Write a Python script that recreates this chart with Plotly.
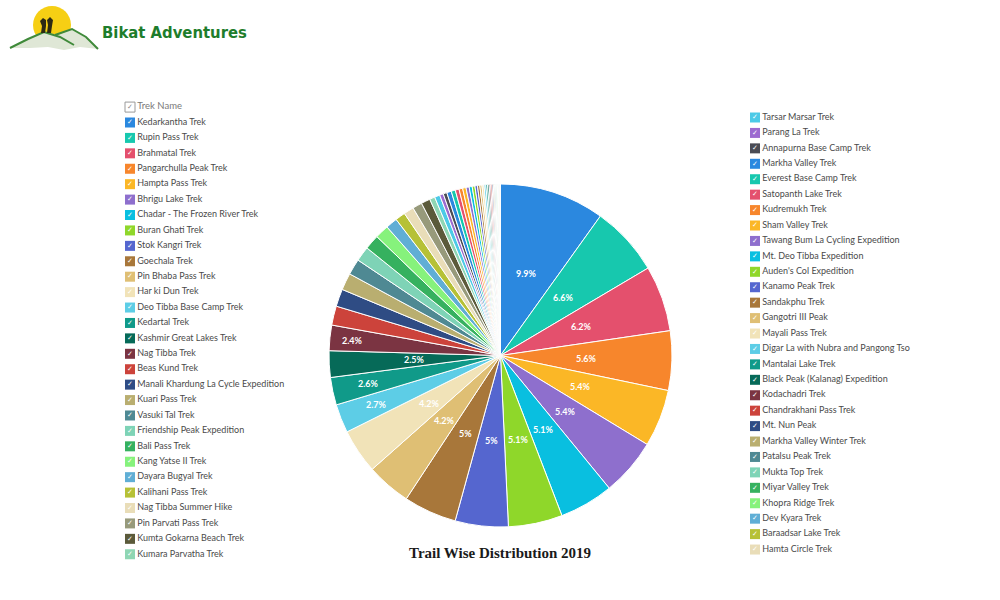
import math
import plotly.graph_objects as go

W, H = 1000, 600

def px(x):
    return x / W

def py(y):
    return 1 - y / H

# ---------------- data ----------------
left_names = [
    "Kedarkantha Trek", "Rupin Pass Trek", "Brahmatal Trek", "Pangarchulla Peak Trek",
    "Hampta Pass Trek", "Bhrigu Lake Trek", "Chadar - The Frozen River Trek", "Buran Ghati Trek",
    "Stok Kangri Trek", "Goechala Trek", "Pin Bhaba Pass Trek", "Har ki Dun Trek",
    "Deo Tibba Base Camp Trek", "Kedartal Trek", "Kashmir Great Lakes Trek", "Nag Tibba Trek",
    "Beas Kund Trek", "Manali Khardung La Cycle Expedition", "Kuari Pass Trek", "Vasuki Tal Trek",
    "Friendship Peak Expedition", "Bali Pass Trek", "Kang Yatse II Trek", "Dayara Bugyal Trek",
    "Kalihani Pass Trek", "Nag Tibba Summer Hike", "Pin Parvati Pass Trek", "Kumta Gokarna Beach Trek",
    "Kumara Parvatha Trek",
]
right_names = [
    "Tarsar Marsar Trek", "Parang La Trek", "Annapurna Base Camp Trek", "Markha Valley Trek",
    "Everest Base Camp Trek", "Satopanth Lake Trek", "Kudremukh Trek", "Sham Valley Trek",
    "Tawang Bum La Cycling Expedition", "Mt. Deo Tibba Expedition", "Auden's Col Expedition",
    "Kanamo Peak Trek", "Sandakphu Trek", "Gangotri III Peak", "Mayali Pass Trek",
    "Digar La with Nubra and Pangong Tso", "Mantalai Lake Trek", "Black Peak (Kalanag) Expedition",
    "Kodachadri Trek", "Chandrakhani Pass Trek", "Mt. Nun Peak", "Markha Valley Winter Trek",
    "Patalsu Peak Trek", "Mukta Top Trek", "Miyar Valley Trek", "Khopra Ridge Trek",
    "Dev Kyara Trek", "Baraadsar Lake Trek", "Hamta Circle Trek",
]
left_values = [
    9.9, 6.6, 6.2, 5.6, 5.4, 5.4, 5.1, 5.1, 5, 5, 4.2, 4.2, 2.7, 2.6, 2.5, 2.4,
    1.8, 1.65, 1.6, 1.5, 1.4, 1.4, 1.3, 1.1, 0.95, 0.95, 0.9, 0.85, 0.5,
]
right_values = [
    0.5, 0.35, 0.35, 0.43, 0.39, 0.36, 0.34, 0.32, 0.3, 0.28, 0.26, 0.24, 0.22,
    0.2, 0.19, 0.17, 0.16, 0.15, 0.14, 0.13, 0.12, 0.11, 0.1, 0.09, 0.08, 0.08,
    0.07, 0.07, 0.07,
]
palette = [
    "#2b88df", "#17c8ae", "#e4506d", "#f7862c", "#fbb726", "#8e6fcd", "#09bfe0", "#8fd72a",
    "#5566cf", "#a8773a", "#dfbf74", "#f1e3b8", "#5dcde6", "#109a89", "#066a58", "#7b3442",
    "#cc433b", "#2f4c84", "#b9ae70", "#4f8993", "#7ed3b6", "#36b15f", "#86f27c", "#60aed5",
    "#b6c136", "#e9ddb8", "#979a7b", "#5b5a3a", "#8fd6b3", "#4ccae7", "#9c6bd0", "#4b4c55",
]
label_min = 2.4  # slices that carry a percentage label

# label placement (style): fraction of radius, with a few pushed outward
label_r_default = 0.5
label_r_override = {12: 0.78, 13: 0.79, 15: 0.87}

names = left_names + right_names
values = left_values + right_values
colors = [palette[i % len(palette)] for i in range(len(names))]
left_colors = colors[:len(left_names)]
right_colors = colors[len(left_names):]

PIE_X = [px(329), px(672)]
PIE_Y = [py(527), py(184)]

fig = go.Figure()

# ---------------- pie ----------------
fig.add_trace(go.Pie(
    labels=names,
    values=values,
    sort=False,
    direction="clockwise",
    rotation=0,
    marker=dict(colors=colors, line=dict(color="white", width=1)),
    textinfo="none",
    domain=dict(x=PIE_X, y=PIE_Y),
    showlegend=False,
    hoverinfo="label+percent",
))

# ---------------- custom two-column legend ----------------
legend_font = dict(family="Lato, Open Sans, sans-serif", size=9, color="#4a4a4a")

def legend_column(nm, cols, xa, ya):
    idx = list(range(len(nm)))
    fig.add_trace(go.Scatter(
        x=[0] * len(nm), y=idx, mode="markers+text",
        marker=dict(symbol="square", size=10, color=cols, line=dict(width=0)),
        text=nm, textposition="middle right", textfont=legend_font,
        xaxis=xa, yaxis=ya, showlegend=False, hoverinfo="text",
        cliponaxis=False,
    ))
    fig.add_trace(go.Scatter(
        x=[0] * len(nm), y=idx, mode="text", text=["✓"] * len(nm),
        textposition="middle center",
        textfont=dict(family="DejaVu Sans", size=7, color="white"),
        xaxis=xa, yaxis=ya, showlegend=False, hoverinfo="skip", cliponaxis=False,
    ))

legend_column(left_names, left_colors, "x", "y")
legend_column(right_names, right_colors, "x2", "y2")

# header "Trek Name"
fig.add_trace(go.Scatter(
    x=[0], y=[-1], mode="markers+text",
    marker=dict(symbol="square", size=10, color="white", line=dict(color="#9a9a9a", width=1)),
    text=["Trek Name"], textposition="middle right",
    textfont=dict(family="Lato, Open Sans, sans-serif", size=9.5, color="#7a7a7a"),
    xaxis="x", yaxis="y", showlegend=False, hoverinfo="skip", cliponaxis=False,
))
fig.add_trace(go.Scatter(
    x=[0], y=[-1], mode="text", text=["✓"], textposition="middle center",
    textfont=dict(family="DejaVu Sans", size=7, color="#8a8a8a"),
    xaxis="x", yaxis="y", showlegend=False, hoverinfo="skip", cliponaxis=False,
))

sp_l, top_l = 15.42, 122.5
sp_r, top_r = 15.43, 117.5
hidden = dict(visible=False, showgrid=False, zeroline=False, fixedrange=True)
fig.update_layout(
    xaxis=dict(domain=[px(125), px(325)], range=[-5, 195], **hidden),
    yaxis=dict(domain=[0, 1], range=[(H - top_l) / sp_l, -top_l / sp_l], **hidden),
    xaxis2=dict(domain=[px(750), px(950)], range=[-5, 195], anchor="y2", **hidden),
    yaxis2=dict(domain=[0, 1], range=[(H - top_r) / sp_r, -top_r / sp_r], anchor="x2", **hidden),
    # unit-circle axes that coincide with the pie, used to position percentage labels
    xaxis3=dict(domain=PIE_X, range=[-1, 1], anchor="y3", **hidden),
    yaxis3=dict(domain=PIE_Y, range=[-1, 1], anchor="x3", **hidden),
)

# percentage labels (drawn above the pie) at each labelled slice's mid-angle
annotations = []
total = sum(values)
cum = 0.0
for i, v in enumerate(values):
    if v >= label_min:
        ang = math.radians((cum + v / 2) / total * 360)
        r = label_r_override.get(i, label_r_default)
        annotations.append(dict(
            text=f"<b>{v:g}%</b>", x=r * math.sin(ang), y=r * math.cos(ang),
            xref="x3", yref="y3", showarrow=False, xanchor="center", yanchor="middle",
            font=dict(family="Lato, Open Sans, sans-serif", size=9, color="white"),
        ))
    cum += v

# ---------------- logo ----------------
def path(points, close=True):
    s = "M " + " L ".join(f"{px(a):.5f},{py(b):.5f}" for a, b in points)
    return s + (" Z" if close else "")

shapes = [
    dict(type="circle", xref="paper", yref="paper",
         x0=px(33), x1=px(71), y0=py(44), y1=py(6),
         fillcolor="#f6cf14", line=dict(width=0), layer="above"),
]
# light hills
shapes.append(dict(type="path", xref="paper", yref="paper",
                   path=path([(10, 48), (28, 39), (44, 32), (58, 35), (72, 29), (86, 37), (98, 49),
                              (80, 47), (64, 50), (48, 47), (30, 48)]),
                   fillcolor="#dfe7d6", line=dict(width=0), layer="above"))
# hill outlines
shapes.append(dict(type="path", xref="paper", yref="paper",
                   path=path([(10, 48), (28, 39), (44, 32), (60, 37), (74, 45)], close=False),
                   line=dict(color="#3f8a3a", width=2), layer="above"))
shapes.append(dict(type="path", xref="paper", yref="paper",
                   path=path([(55, 35), (72, 29), (86, 37), (98, 49)], close=False),
                   line=dict(color="#3f8a3a", width=2), layer="above"))
# hikers
shapes.append(dict(type="path", xref="paper", yref="paper",
                   path=path([(41, 33), (42, 26), (40, 21), (43, 18), (46, 20), (46, 26), (45, 33)]),
                   fillcolor="#2c2a14", line=dict(width=0), layer="above"))
shapes.append(dict(type="path", xref="paper", yref="paper",
                   path=path([(47, 33), (48, 25), (47, 20), (50, 17), (53, 20), (52, 26), (51, 33)]),
                   fillcolor="#2c2a14", line=dict(width=0), layer="above"))

annotations += [
    dict(text="<b>Bikat Adventures</b>", x=px(100), y=py(32), xref="paper", yref="paper",
         xanchor="left", yanchor="middle", showarrow=False,
         font=dict(family="DejaVu Sans Condensed, Liberation Sans Narrow, sans-serif", size=16.5, color="#1e7d2c")),
    dict(text="<b>Trail Wise Distribution 2019</b>", x=px(500), y=py(553), xref="paper", yref="paper",
         xanchor="center", yanchor="middle", showarrow=False,
         font=dict(family="Liberation Serif, DejaVu Serif, serif", size=15, color="#1a1a1a")),
]

fig.update_layout(
    width=W, height=H,
    margin=dict(l=0, r=0, t=0, b=0),
    paper_bgcolor="white", plot_bgcolor="white",
    shapes=shapes, annotations=annotations,
    showlegend=False,
)

fig.write_html("out.html")
